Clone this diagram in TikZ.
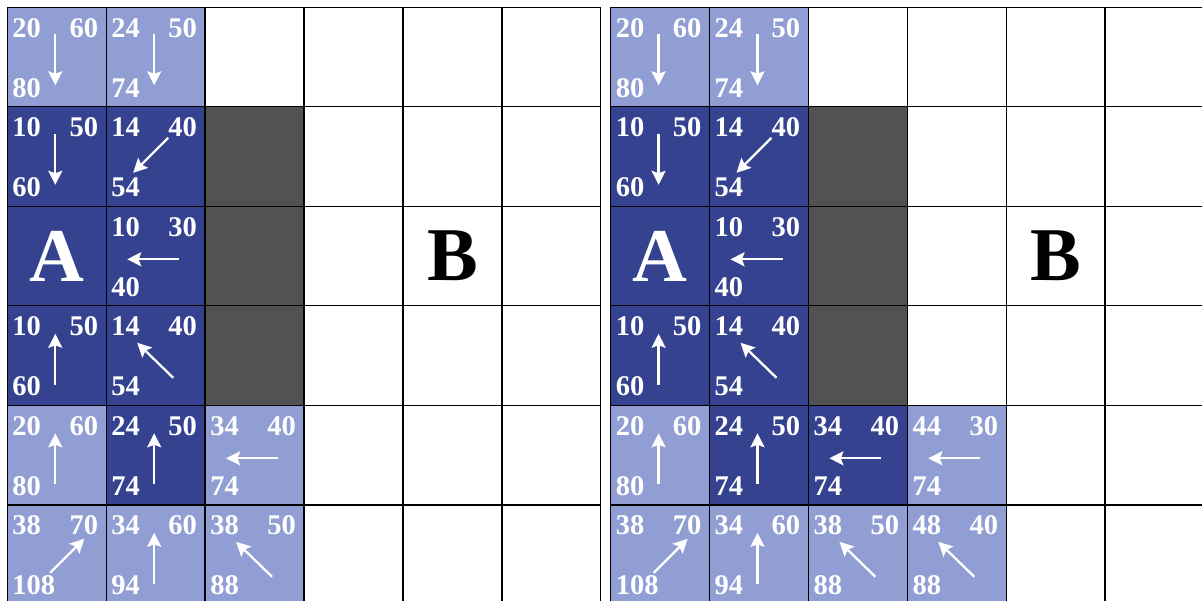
\documentclass[tikz,border=0pt]{standalone}
\usepackage{fontspec}
\setmainfont{Liberation Serif}
\usetikzlibrary{arrows.meta}
\definecolor{cdark}{RGB}{52,66,144}
\definecolor{clight}{RGB}{145,158,212}
\definecolor{cwall}{RGB}{82,82,82}
\tikzset{
 num/.style={inner sep=0pt,text=white,font=\bfseries\fontsize{28.5}{28.5}\selectfont},
 big/.style={inner sep=0pt,font=\bfseries\fontsize{76}{76}\selectfont},
 arr/.style={draw=white,line width=2.3pt,-{Stealth[length=14pt,width=14pt,inset=2.5pt]}},
 gline/.style={draw=black,line width=1.4pt},
 arDn/.style={insert path={(48,27) -- (48,78)}},
 arUp/.style={insert path={(48,79) -- (48,28)}},
 arLf/.style={insert path={(73,53) -- (21,53)}},
 arDL/.style={insert path={(62,31) -- (27,66)}},
 arUL/.style={insert path={(67,72) -- (31,37)}},
 arUR/.style={insert path={(43,68) -- (77,34)}},
}
\newcommand\cw{98.9}
\newcommand\ch{99.5}
\newcommand\gcell[9]{%
 \begin{scope}[shift={({#2+#3*\cw},{7.3+#4*\ch})}]
  \fill[#5] (0,0) rectangle (\cw,\ch);
  \node[num,anchor=base west] (#1-#3-#4-a) at (5,30) {#6};
  \node[num,anchor=base east] (#1-#3-#4-b) at ({\cw-8},30) {#7};
  \node[num,anchor=base west] (#1-#3-#4-c) at (5,90) {#8};
  \draw[arr,#9];
 \end{scope}}
\newcommand\wall[3]{%
 \fill[#1] ({#2*\cw},{#3*\ch}) rectangle ++(\cw,\ch);}
\begin{document}
\begin{tikzpicture}[x=1pt,y=-1pt]
\useasboundingbox (0,0) rectangle (1202,601);
\clip (0,0) rectangle (1202,601);
\fill[white] (0,0) rectangle (1202,601);
% ---------- left grid ----------
\begin{scope}[shift={(7.3,7.3)}]
 \wall{cdark}{0}{2}
 \wall{cwall}{2}{1}
 \wall{cwall}{2}{2}
 \wall{cwall}{2}{3}
\end{scope}
\gcell{L}{7.3}{0}{0}{clight}{20}{60}{80}{arDn}
\gcell{L}{7.3}{1}{0}{clight}{24}{50}{74}{arDn}
\gcell{L}{7.3}{0}{1}{cdark}{10}{50}{60}{arDn}
\gcell{L}{7.3}{1}{1}{cdark}{14}{40}{54}{arDL}
\gcell{L}{7.3}{1}{2}{cdark}{10}{30}{40}{arLf}
\gcell{L}{7.3}{0}{3}{cdark}{10}{50}{60}{arUp}
\gcell{L}{7.3}{1}{3}{cdark}{14}{40}{54}{arUL}
\gcell{L}{7.3}{0}{4}{clight}{20}{60}{80}{arUp}
\gcell{L}{7.3}{1}{4}{cdark}{24}{50}{74}{arUp}
\gcell{L}{7.3}{2}{4}{clight}{34}{40}{74}{arLf}
\gcell{L}{7.3}{0}{5}{clight}{38}{70}{108}{arUR}
\gcell{L}{7.3}{1}{5}{clight}{34}{60}{94}{arUp}
\gcell{L}{7.3}{2}{5}{clight}{38}{50}{88}{arUL}
\node[big,text=white] (LA) at ({7.3+0.5*\cw},{7.3+2.5*\ch}) {A};
\node[big,text=black] (LB) at ({7.3+4.5*\cw},{7.3+2.5*\ch}) {B};
\foreach \i in {0,...,6} \draw[gline] ({7.3+\i*\cw},7.3) -- ({7.3+\i*\cw},620);
\foreach \j in {0,...,6} \draw[gline] (7.3,{7.3+\j*\ch}) -- ({7.3+6*\cw},{7.3+\j*\ch});
% ---------- right grid ----------
\begin{scope}[shift={(610.6,7.3)}]
 \wall{cdark}{0}{2}
 \wall{cwall}{2}{1}
 \wall{cwall}{2}{2}
 \wall{cwall}{2}{3}
\end{scope}
\gcell{R}{610.6}{0}{0}{clight}{20}{60}{80}{arDn}
\gcell{R}{610.6}{1}{0}{clight}{24}{50}{74}{arDn}
\gcell{R}{610.6}{0}{1}{cdark}{10}{50}{60}{arDn}
\gcell{R}{610.6}{1}{1}{cdark}{14}{40}{54}{arDL}
\gcell{R}{610.6}{1}{2}{cdark}{10}{30}{40}{arLf}
\gcell{R}{610.6}{0}{3}{cdark}{10}{50}{60}{arUp}
\gcell{R}{610.6}{1}{3}{cdark}{14}{40}{54}{arUL}
\gcell{R}{610.6}{0}{4}{clight}{20}{60}{80}{arUp}
\gcell{R}{610.6}{1}{4}{cdark}{24}{50}{74}{arUp}
\gcell{R}{610.6}{2}{4}{cdark}{34}{40}{74}{arLf}
\gcell{R}{610.6}{3}{4}{clight}{44}{30}{74}{arLf}
\gcell{R}{610.6}{0}{5}{clight}{38}{70}{108}{arUR}
\gcell{R}{610.6}{1}{5}{clight}{34}{60}{94}{arUp}
\gcell{R}{610.6}{2}{5}{clight}{38}{50}{88}{arUL}
\gcell{R}{610.6}{3}{5}{clight}{48}{40}{88}{arUL}
\node[big,text=white] (RA) at ({610.6+0.5*\cw},{7.3+2.5*\ch}) {A};
\node[big,text=black] (RB) at ({610.6+4.5*\cw},{7.3+2.5*\ch}) {B};
\foreach \i in {0,...,6} \draw[gline] ({610.6+\i*\cw},7.3) -- ({610.6+\i*\cw},620);
\foreach \j in {0,...,6} \draw[gline] (610.6,{7.3+\j*\ch}) -- (1210,{7.3+\j*\ch});
\end{tikzpicture}
\end{document}
